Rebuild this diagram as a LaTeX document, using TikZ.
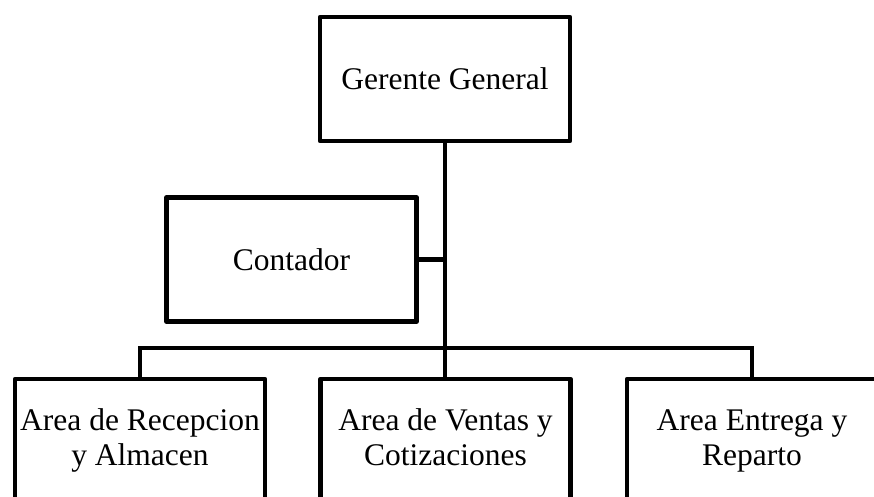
\documentclass[tikz,border=0pt]{standalone}
\usepackage{fontspec}
\setmainfont{Liberation Serif}
\usetikzlibrary{calc}
\tikzstyle{cargo}=[draw,line width=4.5pt,line join=round,minimum width=250pt,minimum height=124pt,align=center,inner sep=0pt,font=\fontsize{31.5}{35}\selectfont]
\tikzstyle{enlace}=[line width=4.5pt]
\newcommand{\dosrenglones}[2]{\strut #1\\\strut #2}
\begin{document}
\begin{tikzpicture}[x=1pt,y=-1pt]
  \useasboundingbox (0,0) rectangle (874,497);
  \clip (0,0) rectangle (874,497);
  \node[cargo] (gerente) at (445,79) {Gerente General};
  \node[cargo] (contador) at (291.5,259.5) {Contador};
  \node[cargo] (recepcion) at (140,441) {\dosrenglones{Area de Recepcion}{y Almacen}};
  \node[cargo] (ventas) at (445.5,441) {\dosrenglones{Area de Ventas y}{Cotizaciones}};
  \node[cargo] (entrega) at (752,441) {\dosrenglones{Area Entrega y}{Reparto}};
  \coordinate (bus) at (445,348);
  % conectores
  \draw[enlace] (gerente.south) -- (gerente.south |- ventas.north);
  \draw[enlace] (contador.east) -- (contador.east -| gerente.south);
  \draw[enlace] (recepcion.north) |- (bus) -| (entrega.north);
\end{tikzpicture}
\end{document}
